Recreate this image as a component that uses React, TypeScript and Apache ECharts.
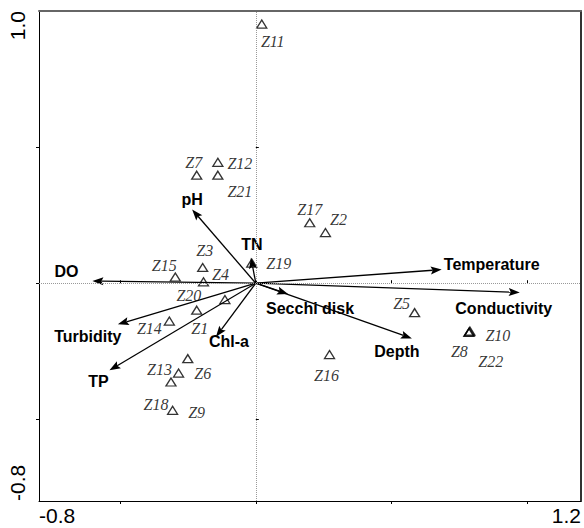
import React, { useEffect, useRef } from "react";
import * as echarts from "echarts";

// Sites (sample scores)
const siteNames = ["Z1","Z2","Z3","Z4","Z5","Z6","Z7","Z8","Z9","Z10","Z11","Z12","Z13","Z14","Z15","Z16","Z17","Z18","Z19","Z20","Z21","Z22"];
const siteX = [-0.218, 0.257, -0.196, -0.193, 0.586, -0.251, -0.218, 0.788, -0.307, 0.790, 0.022, -0.140, -0.285, -0.319, -0.297, 0.272, 0.199, -0.313, -0.015, -0.114, -0.140, 0.786];
const siteY = [-0.099, 0.186, 0.058, 0.005, -0.108, -0.277, 0.397, -0.179, -0.467, -0.176, 0.952, 0.444, -0.330, -0.139, 0.023, -0.262, 0.222, -0.363, 0.074, -0.060, 0.397, -0.181];
// label placement (pixels, relative to symbol)
const siteLabelOffset: [number, number][] = [
  [3, 18], [13, -13], [2, -17], [17, -7], [-13, -9], [15, 15], [-3, -13], [-10, 20], [24, 2], [28, 4], [11, 17],
  [22, 1], [-19, -4], [-20, 7], [-11, -11], [-3, 21], [0, -13], [-15, 22], [27, 0], [-36, -4], [22, 16], [22, 29],
];

// Environmental variables (arrow tips)
const envNames = ["DO", "pH", "TN", "Turbidity", "TP", "Chl-a", "Secchi disk", "Depth", "Temperature", "Conductivity"];
const envX = [-0.603, -0.235, -0.018, -0.509, -0.540, -0.147, 0.119, 0.576, 0.686, 0.974];
const envY = [0.008, 0.271, 0.094, -0.151, -0.320, -0.197, -0.040, -0.203, 0.050, -0.034];
const envLabelOffset: [number, number][] = [
  [-26, -10], [0, -10], [1, -13], [-30, 12], [-11, 11], [13, 5], [22, 14], [-15, 13], [50, -5], [-16, 16],
];

// Axes
const xMin = -0.8, xMax = 1.2, yMin = -0.8, yMax = 1.0;
const xTickValues = [-0.5, 0, 0.5, 1.0];
const yTickValues = [-0.5, 0, 0.5];
const xLabelValues = [-0.8, 1.2];
const yLabelValues = [-0.8, 1.0];

export default function App() {
  const ref = useRef<HTMLDivElement>(null);
  useEffect(() => {
    if (!ref.current) return;
    const chart = echarts.init(ref.current, null, { renderer: "svg" });
    const axisFont = { fontSize: 21, fontFamily: "Liberation Sans", color: "#000" };
    chart.setOption({
      animation: false,
      backgroundColor: "#fff",
      grid: { left: 39, top: 11, right: 1, bottom: 27, containLabel: false },
      xAxis: [
        {
          type: "value", min: xMin, max: xMax, position: "bottom",
          axisLine: { show: true, onZero: false, lineStyle: { color: "#000", width: 1 } },
          axisTick: { show: true, inside: false, length: 3, customValues: xTickValues, lineStyle: { color: "#000" } },
          axisLabel: {
            show: true, customValues: xLabelValues, margin: 4, ...axisFont,
            alignMinLabel: "left", alignMaxLabel: "right",
            formatter: (v: number) => v.toFixed(1),
          },
          splitLine: { show: false },
        },
        {
          type: "value", min: xMin, max: xMax, position: "bottom",
          axisLine: { show: false },
          axisTick: { show: true, inside: true, length: 3, customValues: xTickValues, lineStyle: { color: "#000" } },
          axisLabel: { show: false }, splitLine: { show: false },
        },
        {
          type: "value", min: xMin, max: xMax, position: "top",
          axisLine: { show: true, onZero: false, lineStyle: { color: "#666", width: 2 } },
          axisTick: { show: false }, axisLabel: { show: false }, splitLine: { show: false },
        },
      ],
      yAxis: [
        {
          type: "value", min: yMin, max: yMax, position: "left",
          axisLine: { show: true, onZero: false, lineStyle: { color: "#000", width: 1 } },
          axisTick: { show: true, inside: false, length: 3, customValues: yTickValues, lineStyle: { color: "#000" } },
          axisLabel: {
            show: true, customValues: yLabelValues, margin: 11, rotate: 90, ...axisFont,
            alignMinLabel: "left", alignMaxLabel: "right",
            formatter: (v: number) => v.toFixed(1),
          },
          splitLine: { show: false },
        },
        {
          type: "value", min: yMin, max: yMax, position: "left",
          axisLine: { show: false },
          axisTick: { show: true, inside: true, length: 3, customValues: yTickValues, lineStyle: { color: "#000" } },
          axisLabel: { show: false }, splitLine: { show: false },
        },
        {
          type: "value", min: yMin, max: yMax, position: "right",
          axisLine: { show: true, onZero: false, lineStyle: { color: "#333", width: 2 } },
          axisTick: { show: false }, axisLabel: { show: false }, splitLine: { show: false },
        },
      ],
      series: [
        {
          type: "scatter",
          xAxisIndex: 0, yAxisIndex: 0,
          symbol: "triangle",
          symbolSize: [10, 8],
          itemStyle: { color: "rgba(255,255,255,0)", borderColor: "#000", borderWidth: 1.3 },
          label: {
            show: true, position: "inside", formatter: "{b}",
            fontFamily: "Liberation Serif", fontStyle: "italic", fontSize: 16, color: "#000",
          },
          data: siteNames.map((n, i) => ({
            name: n, value: [siteX[i], siteY[i]], label: { offset: siteLabelOffset[i] },
          })),
          markLine: {
            silent: true, symbol: "none", label: { show: false },
            lineStyle: { type: "dotted", color: "#999", width: 1 },
            data: [{ xAxis: 0 }, { yAxis: 0 }],
          },
          z: 2,
        },
        {
          type: "custom",
          xAxisIndex: 0, yAxisIndex: 0,
          data: envNames.map((n, i) => ({ name: n, value: [envX[i], envY[i]] })),
          encode: { x: 0, y: 1 },
          renderItem: (params: any, api: any) => {
            const idx = params.dataIndex;
            const o = api.coord([0, 0]);
            const t = api.coord([api.value(0), api.value(1)]);
            const dx = t[0] - o[0], dy = t[1] - o[1];
            const len = Math.hypot(dx, dy) || 1;
            const ux = dx / len, uy = dy / len;
            const L = 11, W = 4;
            const bx = t[0] - ux * L, by = t[1] - uy * L;
            const off = envLabelOffset[idx];
            return {
              type: "group",
              children: [
                { type: "line", shape: { x1: o[0], y1: o[1], x2: bx + ux * 2, y2: by + uy * 2 }, style: { stroke: "#000", lineWidth: 1.3 } },
                {
                  type: "polygon",
                  shape: { points: [[t[0], t[1]], [bx - uy * W, by + ux * W], [bx + ux * 2, by + uy * 2], [bx + uy * W, by - ux * W]] },
                  style: { fill: "#000" },
                },
                {
                  type: "text", x: t[0] + off[0], y: t[1] + off[1],
                  style: {
                    text: envNames[idx], fill: "#000", fontSize: 16, fontWeight: "bold", fontFamily: "Liberation Sans",
                    align: "center", verticalAlign: "middle",
                  },
                },
              ],
            };
          },
          z: 3,
        },
      ],
    });
    return () => chart.dispose();
  }, []);
  return <div ref={ref} style={{ position: "fixed", left: 0, top: 0, width: 584, height: 528 }} />;
}
